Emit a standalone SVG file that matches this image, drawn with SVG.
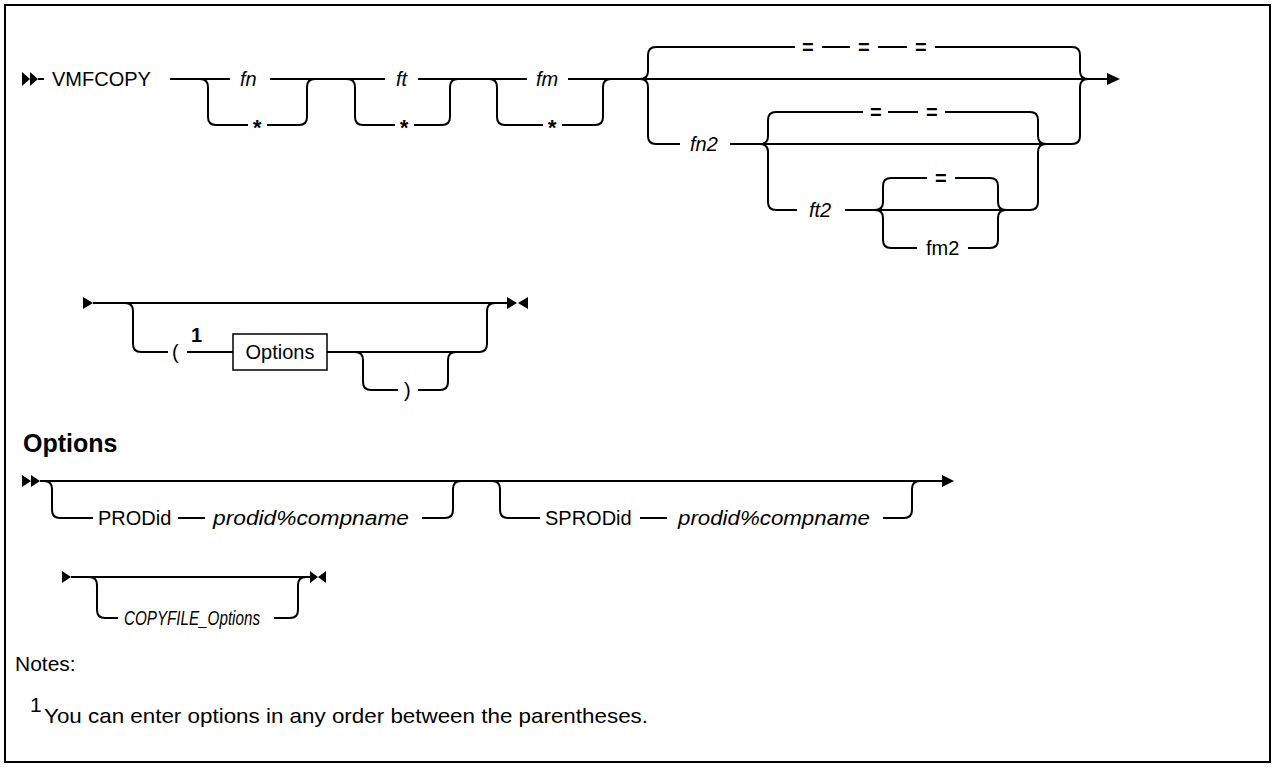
<svg xmlns="http://www.w3.org/2000/svg" width="1274" height="767" viewBox="0 0 1274 767">
<style>
.t{font-family:"Liberation Sans",Arial,sans-serif;font-size:20px;fill:#000}
.i{font-style:italic}
.s{font-size:22px;font-weight:bold}
.e{font-weight:bold}
.ln{fill:none;stroke:#000;stroke-width:2}
.ah{fill:#000;stroke:none}
.h{font-family:"Liberation Sans",Arial,sans-serif;font-size:25px;font-weight:bold;fill:#000}
.n{font-family:"Liberation Sans",Arial,sans-serif;font-size:21px;fill:#000}
</style>
<rect x="5" y="5" width="1265" height="757" fill="#fff" stroke="#000" stroke-width="2"/>
<g id="connectors">
<path class="ah" d="M22 72 L30 79 L22 86 Z M30 72 L38 79 L30 86 Z"/>
<path class="ln" d="M38 79 H44"/>
<path class="ln" d="M170 79 H230 M270 79 H385 M418 79 H527 M568 79 H1107"/>
<path class="ah" d="M1107 73 L1120 79 L1107 85 Z"/>
<path class="ln" d="M200 79 Q208 79 208 87 V117 Q208 125 216 125 H248 M267 125 H299 Q307 125 307 117 V87 Q307 79 315 79"/>
<path class="ln" d="M347 79 Q355 79 355 87 V117 Q355 125 363 125 H395 M414 125 H442 Q450 125 450 117 V87 Q450 79 458 79"/>
<path class="ln" d="M489 79 Q497 79 497 87 V117 Q497 125 505 125 H543 M562 125 H595 Q603 125 603 117 V87 Q603 79 611 79"/>
<path class="ln" d="M640 79 Q648 79 648 71 V55 Q648 47 656 47 H795 M822 47 H850 M878 47 H907 M935 47 H1072 Q1080 47 1080 55 V71 Q1080 79 1088 79"/>
<path class="ln" d="M640 79 Q648 79 648 87 V136 Q648 144 656 144 H680 M730 144 H1072 Q1080 144 1080 136 V87 Q1080 79 1088 79"/>
<path class="ln" d="M760 144 Q768 144 768 136 V120 Q768 112 776 112 H863 M888 112 H918 M945 112 H1030 Q1038 112 1038 120 V136 Q1038 144 1046 144"/>
<path class="ln" d="M760 144 Q768 144 768 152 V202 Q768 210 776 210 H797 M845 210 H1030 Q1038 210 1038 202 V152 Q1038 144 1046 144"/>
<path class="ln" d="M875 210 Q883 210 883 202 V186 Q883 178 891 178 H927 M955 178 H990 Q998 178 998 186 V202 Q998 210 1006 210"/>
<path class="ln" d="M875 210 Q883 210 883 218 V240 Q883 248 891 248 H917 M968 248 H990 Q998 248 998 240 V218 Q998 210 1006 210"/>
<path class="ah" d="M83 297 L93 303 L83 309 Z"/>
<path class="ln" d="M93 303 H507"/>
<path class="ah" d="M507 297 L517 303 L507 309 Z M528 297 L518 303 L528 309 Z"/>
<path class="ln" d="M125 303 Q133 303 133 311 V344 Q133 352 141 352 H168 M187 352 H233 M327 352 H479 Q487 352 487 344 V311 Q487 303 495 303"/>
<path class="ln" d="M355 352 Q363 352 363 360 V382 Q363 390 371 390 H398 M418 390 H440 Q448 390 448 382 V360 Q448 352 456 352"/>
<path class="ah" d="M22 475 L31 481 L22 487 Z M31 475 L40 481 L31 487 Z"/>
<path class="ln" d="M40 481 H942"/>
<path class="ah" d="M942 475 L954 481 L942 487 Z"/>
<path class="ln" d="M44 481 Q52 481 52 489 V510 Q52 518 60 518 H93 M178 518 H205 M422 518 H445 Q453 518 453 510 V489 Q453 481 461 481"/>
<path class="ln" d="M492 481 Q500 481 500 489 V510 Q500 518 508 518 H540 M640 518 H667 M883 518 H904 Q912 518 912 510 V489 Q912 481 920 481"/>
<path class="ah" d="M62 571 L71 577 L62 583 Z"/>
<path class="ln" d="M71 577 H310"/>
<path class="ah" d="M310 571 L318 577 L310 583 Z M326 571 L318 577 L326 583 Z"/>
<path class="ln" d="M89 577 Q97 577 97 585 V610 Q97 618 105 618 H118 M274 618 H290 Q298 618 298 610 V585 Q298 577 306 577"/>
</g>
<g id="n-vmfcopy"><text class="t" x="52" y="86">VMFCOPY</text></g>
<g id="n-fn"><text class="t i" x="240" y="86">fn</text></g>
<g id="n-fn-star"><text class="t i s" x="252" y="135">*</text></g>
<g id="n-ft"><text class="t i" x="396" y="86">ft</text></g>
<g id="n-ft-star"><text class="t i s" x="399" y="135">*</text></g>
<g id="n-fm"><text class="t i" x="536" y="86">fm</text></g>
<g id="n-fm-star"><text class="t i s" x="547" y="135">*</text></g>
<g id="n-eq3"><text class="t e" x="802" y="54">=</text><text class="t e" x="858" y="54">=</text><text class="t e" x="915" y="54">=</text></g>
<g id="n-fn2"><text class="t i" x="690" y="151">fn2</text></g>
<g id="n-eq2"><text class="t e" x="870" y="119">=</text><text class="t e" x="926" y="119">=</text></g>
<g id="n-ft2"><text class="t i" x="809" y="217">ft2</text></g>
<g id="n-eq1"><text class="t e" x="935" y="185">=</text></g>
<g id="n-fm2"><text class="t" x="926" y="255">fm2</text></g>
<g id="n-lparen"><text class="t" x="172" y="359">(</text><text class="t" x="191" y="342" font-weight="bold" font-size="15">1</text></g>
<g id="n-options-box"><rect x="233" y="334" width="94" height="36" fill="#fff" stroke="#000" stroke-width="1.5"/><text class="t" x="280" y="359" text-anchor="middle">Options</text></g>
<g id="n-rparen"><text class="t" x="404" y="397">)</text></g>
<g id="n-heading"><text class="h" x="23" y="452">Options</text></g>
<g id="n-prodid"><text class="t" x="98" y="525">PRODid</text><text class="t i" x="213" y="525" textLength="196" lengthAdjust="spacingAndGlyphs">prodid%compname</text></g>
<g id="n-sprodid"><text class="t" x="545" y="525">SPRODid</text><text class="t i" x="678" y="525" textLength="192" lengthAdjust="spacingAndGlyphs">prodid%compname</text></g>
<g id="n-copyfile"><text class="t i" x="124" y="625" font-size="19" textLength="136" lengthAdjust="spacingAndGlyphs">COPYFILE_Options</text></g>
<g id="n-notes"><text class="n" x="15" y="671">Notes:</text><text class="n" x="30" y="712" font-size="13">1</text><text class="n" x="44" y="723" textLength="604" lengthAdjust="spacingAndGlyphs">You can enter options in any order between the parentheses.</text></g>
</svg>
